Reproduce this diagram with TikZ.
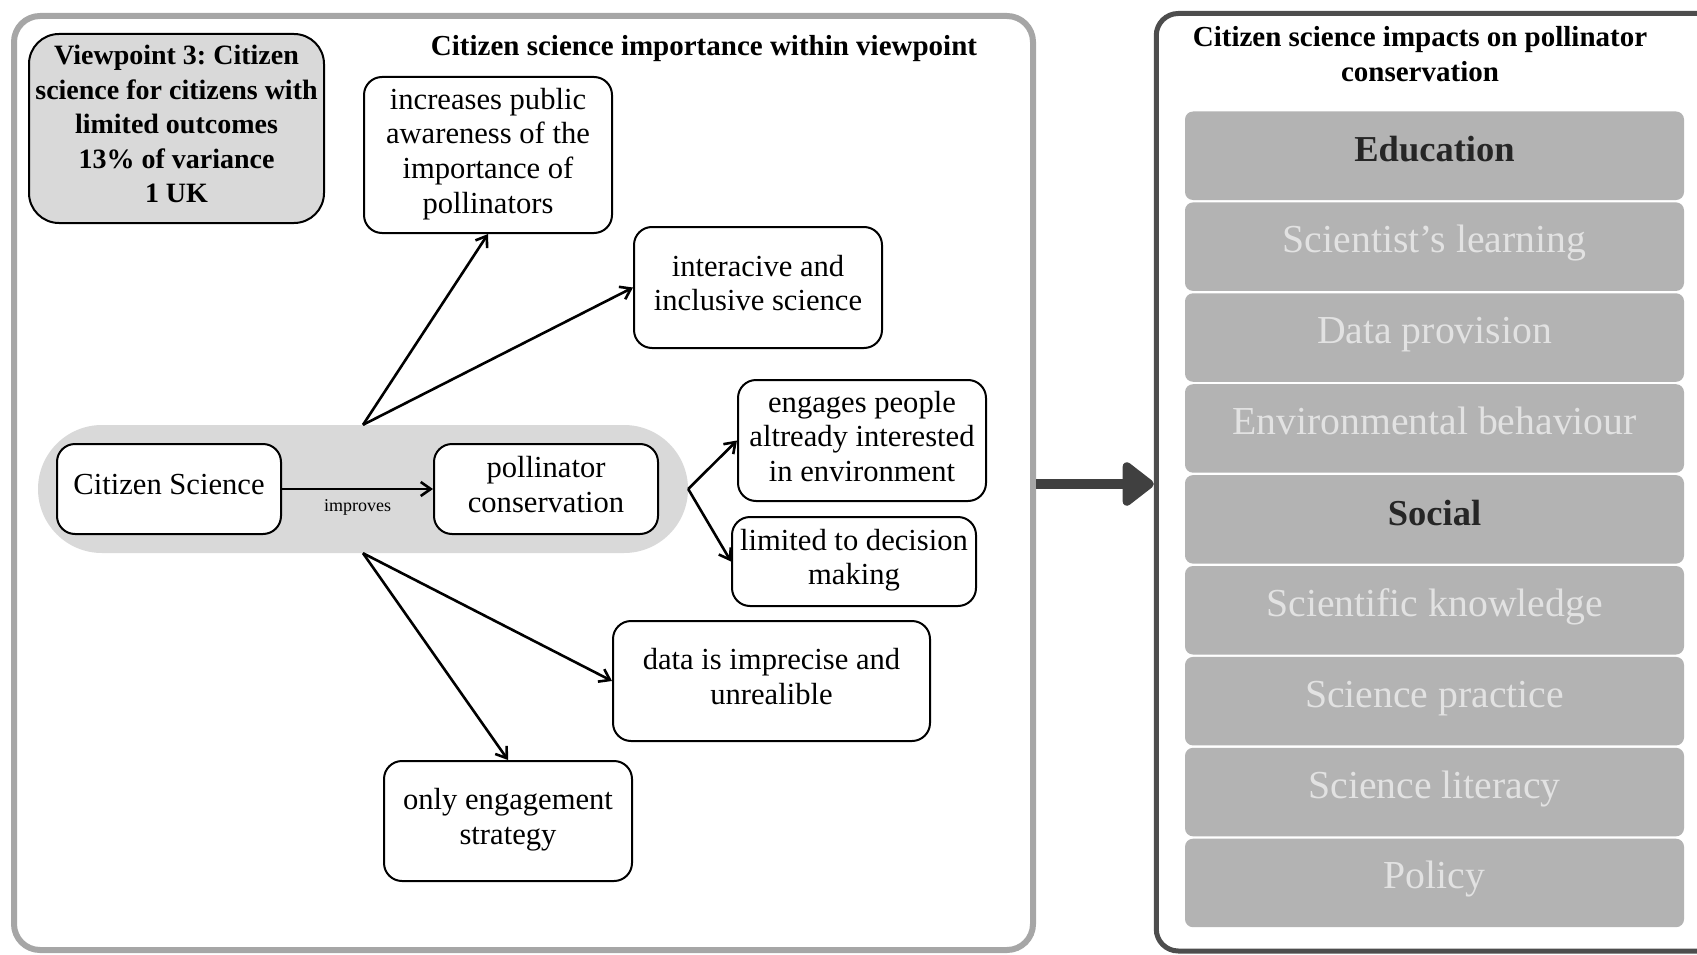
\documentclass[tikz,border=0pt]{standalone}
\usepackage{fontspec}
\setmainfont{Liberation Serif}
\usetikzlibrary{arrows.meta}
\frenchspacing
\definecolor{panelgray}{HTML}{A6A6A6}
\definecolor{paneldark}{HTML}{4D4D4D}
\definecolor{bandgray}{HTML}{D9D9D9}
\definecolor{bargray}{HTML}{B3B3B3}
\definecolor{bartext}{HTML}{E2E2E2}
\definecolor{bardark}{HTML}{262626}
\definecolor{bigarrow}{HTML}{404040}
\begin{document}
\begin{tikzpicture}[x=1pt,y=-1pt,
  panelL/.style={draw=panelgray, line width=6pt, rounded corners=26pt, fill=white},
  panelR/.style={draw=paneldark, line width=5pt, rounded corners=22pt, fill=white},
  box/.style={draw=black, line width=2pt, rounded corners=18pt, fill=white, align=center,
    font=\fontsize{30.6}{34.6}\selectfont, inner sep=2pt, text depth=9pt},
  vpbox/.style={box, fill=bandgray, rounded corners=30pt, font=\fontsize{28}{34.6}\selectfont\bfseries},
  band/.style={fill=bandgray, rounded corners=64pt},
  title/.style={align=center, font=\fontsize{29}{35}\selectfont\bfseries, inner sep=0pt},
  bar/.style={fill=bargray, rounded corners=8pt, minimum width=499pt, minimum height=88.5pt,
    font=\fontsize{39.7}{44}\selectfont, text=bartext, text height=27pt, text depth=15pt},
  barhead/.style={bar, font=\fontsize{36.5}{44}\selectfont\bfseries, text=bardark},
  conn/.style={draw=black, line width=2.6pt, -{Straight Barb[length=10pt,width=14pt]}},
  big/.style={draw=bigarrow, line width=10pt, -{Triangle[length=34pt,width=50pt,round]}}
]
\useasboundingbox (0,0) rectangle (1697,955);
\clip (0,0) rectangle (1697,955);

% panels
\node[panelL, minimum width=1019pt, minimum height=934pt] (left) at (523.5,483) {};
\node[panelR, minimum width=603.5pt, minimum height=937.5pt] (right) at (1458,482.25) {};

% titles
\node[title] (t1) at (704,49) {Citizen science importance within viewpoint};
\node[title] (t2) at (1420,54) {Citizen science impacts on pollinator\\conservation};

% viewpoint box
\node[vpbox, minimum width=295pt, minimum height=189pt] (vp) at (176.5,128.5)
  {Viewpoint 3: Citizen\\science for citizens with\\limited outcomes\\13\% of variance\\1 UK};

% band and central nodes
\node[band, minimum width=650pt, minimum height=128pt] (band) at (363,489) {};
\node[box, minimum width=224pt, minimum height=90pt] (cs) at (169,489) {Citizen Science};
\node[box, minimum width=224pt, minimum height=90pt] (pc) at (546,489) {pollinator\\conservation};
\draw[conn] (cs) -- (pc) node[midway, below=6pt, font=\fontsize{18}{20}\selectfont] {improves};

% outcome boxes
\node[box, minimum width=248pt, minimum height=156pt] (aware) at (488,155)
  {increases public\\awareness of the\\importance of\\pollinators};
\node[box, minimum width=248pt, minimum height=121pt] (inter) at (758,287.5)
  {interacive and\\inclusive science};
\node[box, minimum width=248pt, minimum height=121pt] (engage) at (862,440.5)
  {engages people\\altready interested\\in environment};
\node[box, minimum width=244pt, minimum height=89pt] (limit) at (854,561.5)
  {limited to decision\\making};
\node[box, minimum width=317pt, minimum height=120pt] (data) at (771.5,681)
  {data is imprecise and\\unrealible};
\node[box, minimum width=248pt, minimum height=120pt] (only) at (508,821)
  {only engagement\\strategy};

% fan connectors
\draw[conn] (band.north) -- (aware.south);
\draw[conn] (band.north) -- (inter.west);
\draw[conn] (band.east) -- (engage.west);
\draw[conn] (band.east) -- (limit.west);
\draw[conn] (band.south) -- (data.west);
\draw[conn] (band.south) -- (only.north);

% big arrow
\coordinate (ay) at (0,484);
\draw[big] (left.east |- ay) -- (right.west |- ay);

% impact bars
\node[barhead] (b1) at (1434.5,155.75) {Education};
\node[bar] (b2) at (1434.5,246.65) {Scientist’s learning};
\node[bar] (b3) at (1434.5,337.55) {Data provision};
\node[bar] (b4) at (1434.5,428.45) {Environmental behaviour};
\node[barhead] (b5) at (1434.5,519.35) {Social};
\node[bar] (b6) at (1434.5,610.25) {Scientific knowledge};
\node[bar] (b7) at (1434.5,701.15) {Science practice};
\node[bar] (b8) at (1434.5,792.05) {Science literacy};
\node[bar] (b9) at (1434.5,882.95) {Policy};
\end{tikzpicture}
\end{document}
